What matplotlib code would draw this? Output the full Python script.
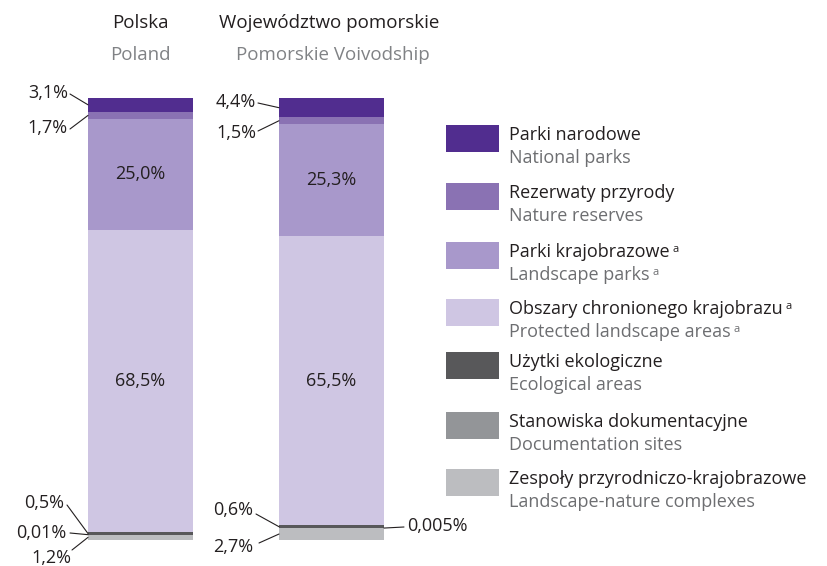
import numpy as np
import matplotlib.pyplot as plt
from matplotlib.patches import Rectangle

plt.rcParams['font.family'] = ['Open Sans', 'DejaVu Sans']

# dane (%), kolejnosc od dolu slupka
cats_pl = ['Zespoły przyrodniczo-krajobrazowe', 'Stanowiska dokumentacyjne', 'Użytki ekologiczne',
           'Obszary chronionego krajobrazu', 'Parki krajobrazowe', 'Rezerwaty przyrody', 'Parki narodowe']
cats_en = ['Landscape-nature complexes', 'Documentation sites', 'Ecological areas',
           'Protected landscape areas', 'Landscape parks', 'Nature reserves', 'National parks']
footnote = [False, False, False, True, True, False, False]
polska = [1.2, 0.01, 0.5, 68.5, 25.0, 1.7, 3.1]
pomorskie = [2.7, 0.005, 0.6, 65.5, 25.3, 1.5, 4.4]
labels_polska = ['1,2%', '0,01%', '0,5%', '68,5%', '25,0%', '1,7%', '3,1%']
labels_pomorskie = ['2,7%', '0,005%', '0,6%', '65,5%', '25,3%', '1,5%', '4,4%']
colors = ['#bcbdc0', '#939598', '#58585a', '#cfc6e3', '#a898cb', '#8a72b3', '#512d8f']

W, H = 827, 566
FS = 13
fig = plt.figure(figsize=(W / 100, H / 100), dpi=100)

# os slupkow: y w procentach
ax = fig.add_axes([0, 26 / H, 1, 442 / H])
ax.set_xlim(0, W)
ax.set_ylim(0, 100)
ax.axis('off')

# os nakladki: wspolrzedne pikselowe
ov = fig.add_axes([0, 0, 1, 1], zorder=3)
ov.set_xlim(0, W)
ov.set_ylim(H, 0)
ov.axis('off')

xs = [140.5, 331.5]
bw = 105
for x, vals in zip(xs, [polska, pomorskie]):
    bottom = np.concatenate([[0], np.cumsum(vals)[:-1]])
    ax.bar(x, vals, bottom=bottom, width=bw, color=colors, linewidth=0)

# etykiety wewnatrz slupkow
for x, vals, labs in zip(xs, [polska, pomorskie], [labels_polska, labels_pomorskie]):
    bottom = np.concatenate([[0], np.cumsum(vals)[:-1]])
    for i in (3, 4):
        ax.text(x, bottom[i] + vals[i] / 2, labs[i], ha='center', va='center', fontsize=FS, color='#231f20')

# etykiety zewnetrzne z liniami: (indeks, tekst x, tekst y, poczatek linii x, y)
outer = [
    (0, polska, labels_polska, [(6, 68, 93, 70, 94), (5, 68, 128, 70, 129), (2, 64, 503, 67, 505),
                                 (1, 66, 533, 70, 533), (0, 71, 558, 72, 550)]),
    (1, pomorskie, labels_pomorskie, [(6, 256, 102, 258, 103), (5, 256, 133, 258, 131),
                                       (2, 253, 510, 256, 514), (0, 253, 547, 259, 543)]),
]
for bi, vals, labs, items in outer:
    bottom = np.concatenate([[0], np.cumsum(vals)[:-1]])
    for i, tx, ty, lx, ly in items:
        ov.text(tx, ty, labs[i], ha='right', va='center', fontsize=FS, color='#231f20')
        ov.annotate('', xy=(xs[bi] - bw / 2, bottom[i] + vals[i] / 2), xycoords=ax.transData,
                    xytext=(lx, ly), textcoords=ov.transData,
                    arrowprops=dict(arrowstyle='-', lw=0.8, color='#231f20', shrinkA=0, shrinkB=0))
# 0,005% po prawej
b = np.cumsum(pomorskie)[0]
ov.text(407, 526, labels_pomorskie[1], ha='left', va='center', fontsize=FS, color='#231f20')
ov.annotate('', xy=(xs[1] + bw / 2, b + pomorskie[1] / 2), xycoords=ax.transData,
            xytext=(404, 527), textcoords=ov.transData,
            arrowprops=dict(arrowstyle='-', lw=0.8, color='#231f20', shrinkA=0, shrinkB=0))

# naglowki
ov.text(140, 23, 'Polska', ha='center', va='center', fontsize=13.5, color='#231f20')
ov.text(140, 55, 'Poland', ha='center', va='center', fontsize=13.5, color='#808285')
ov.text(329, 23, 'Województwo pomorskie', ha='center', va='center', fontsize=13.5, color='#231f20')
ov.text(333, 55, 'Pomorskie Voivodship', ha='center', va='center', fontsize=13.5, color='#808285')

# legenda
tops = [125, 183, 242, 299, 352, 412, 469]
for k, top in enumerate(tops):
    i = 6 - k
    ov.add_patch(Rectangle((446, top), 53, 27, color=colors[i], lw=0))
    t1 = ov.text(509, top + 10, cats_pl[i], ha='left', va='center', fontsize=FS, color='#231f20')
    t2 = ov.text(509, top + 33, cats_en[i], ha='left', va='center', fontsize=FS, color='#6d6e71')
    if footnote[i]:
        ov.annotate('a', xy=(1, 1), xycoords=t1, xytext=(2, -1), textcoords='offset points',
                    ha='left', va='top', fontsize=8, color='#231f20')
        ov.annotate('a', xy=(1, 1), xycoords=t2, xytext=(2, -1), textcoords='offset points',
                    ha='left', va='top', fontsize=8, color='#6d6e71')

plt.savefig('out.png', dpi=100)
